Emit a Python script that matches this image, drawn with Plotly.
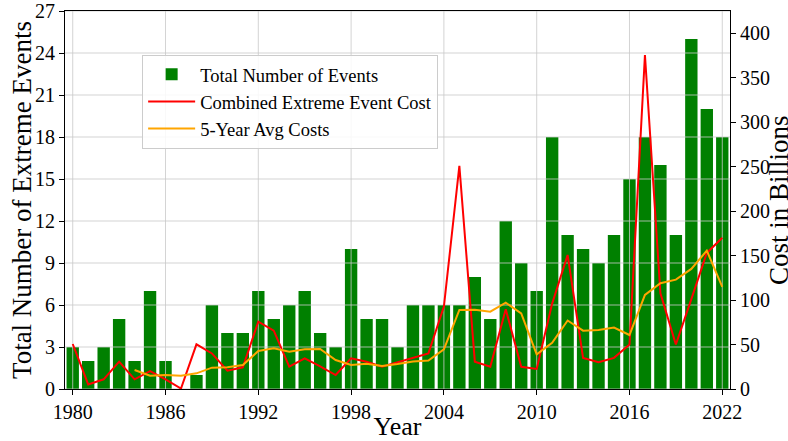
import plotly.graph_objects as go

years = list(range(1980, 2023))
events = [3, 2, 3, 5, 2, 7, 2, 0, 1, 6,
          4, 4, 7, 5, 6, 7, 4, 3, 10, 5,
          5, 3, 6, 6, 6, 6, 8, 5, 12, 9,
          7, 18, 11, 10, 9, 11, 15, 18, 16, 11,
          25, 20, 18]
cost = [50.6, 5.2, 10.9, 30.7, 10.9, 20.2, 10.9, 0.5, 50.2, 40.0,
        20.6, 24.4, 75.7, 65.6, 25.1, 34.5, 25.5, 15.7, 34.5, 30.7,
        25.0, 30.0, 35.0, 40.0, 92.6, 250.8, 30.7, 25.0, 89.6, 25.0,
        22.5, 96.0, 150.7, 35.0, 30.0, 35.0, 50.0, 375.6, 107.6, 50.0,
        101.0, 153.0, 170.0]
avg_years = list(range(1984, 2023))
avg_cost = [21.4, 15.0, 15.7, 15.0, 17.6, 24.0,
            24.4, 27.0, 42.7, 45.7, 42.0, 44.6, 45.0, 32.6, 27.0, 28.5,
            26.0, 28.0, 31.0, 32.0, 44.6, 88.9, 89.0, 87.0, 97.0, 85.0,
            39.0, 52.0, 77.0, 65.6, 66.4, 69.0, 60.7, 105.7, 119.0, 123.0,
            135.0, 155.6, 114.8]

x_ticks = list(range(1980, 2023, 6))
y_ticks = list(range(0, 28, 3))
y2_ticks = list(range(0, 401, 50))
x_range = [1979.5, 2022.5]
y_range = [0, 27]
y2_range = [0, 425]

FONT = "Liberation Serif, Times New Roman, serif"

fig = go.Figure()

fig.add_trace(go.Bar(
    x=years, y=events, width=0.8, name="Total Number of Events",
    marker=dict(color="green", line=dict(width=0)), yaxis="y",
))

# grid lines drawn above bars but below the cost lines (as in the reference)
gx, gy = [], []
for t in y_ticks:
    gx += [x_range[0], x_range[1], None]
    gy += [t, t, None]
for t in x_ticks:
    gx += [t, t, None]
    gy += [y_range[0], y_range[1], None]
fig.add_trace(go.Scatter(
    x=gx, y=gy, mode="lines", yaxis="y", showlegend=False, hoverinfo="skip",
    line=dict(color="rgba(200,200,200,0.8)", width=1),
))

fig.add_trace(go.Scatter(
    x=years, y=cost, mode="lines", name="Combined Extreme Event Cost",
    line=dict(color="red", width=2), yaxis="y2",
))
fig.add_trace(go.Scatter(
    x=avg_years, y=avg_cost, mode="lines", name="5-Year Avg Costs",
    line=dict(color="orange", width=2), yaxis="y2",
))

axis_common = dict(
    showline=True, linecolor="black", linewidth=1,
    ticks="outside", ticklen=5, tickcolor="black",
    tickfont=dict(family=FONT, size=20, color="black"),
    showgrid=False, zeroline=False, automargin=False,
)

fig.update_layout(
    template="none",
    width=788, height=441,
    margin=dict(l=65, r=58, t=11, b=52),
    paper_bgcolor="white", plot_bgcolor="white",
    font=dict(family=FONT, color="black"),
    showlegend=True,
    xaxis=dict(
        range=x_range, tickvals=x_ticks, mirror=True,
        title=dict(text="Year", font=dict(family=FONT, size=26), standoff=2),
        **axis_common,
    ),
    yaxis=dict(range=y_range, tickvals=y_ticks, **axis_common),
    yaxis2=dict(
        range=y2_range, tickvals=y2_ticks, overlaying="y", side="right",
        **axis_common,
    ),
    legend=dict(
        x=0.116, y=0.884, xanchor="left", yanchor="top",
        bgcolor="rgba(255,255,255,0.85)", bordercolor="#cccccc", borderwidth=1,
        font=dict(family=FONT, size=18.5, color="black"),
        traceorder="normal", itemwidth=47,
    ),
    annotations=[
        dict(text="Total Number of Extreme Events", textangle=-90,
             xref="paper", yref="paper", x=-0.0647, y=0.5,
             xanchor="center", yanchor="middle", showarrow=False,
             font=dict(family=FONT, size=27, color="black")),
        dict(text="Cost in Billions", textangle=-90,
             xref="paper", yref="paper", x=1.0737, y=0.5,
             xanchor="center", yanchor="middle", showarrow=False,
             font=dict(family=FONT, size=27, color="black")),
    ],
)

fig.write_html("out.html",
               config={"displayModeBar": False},
               post_script="document.body.style.margin='0';")
